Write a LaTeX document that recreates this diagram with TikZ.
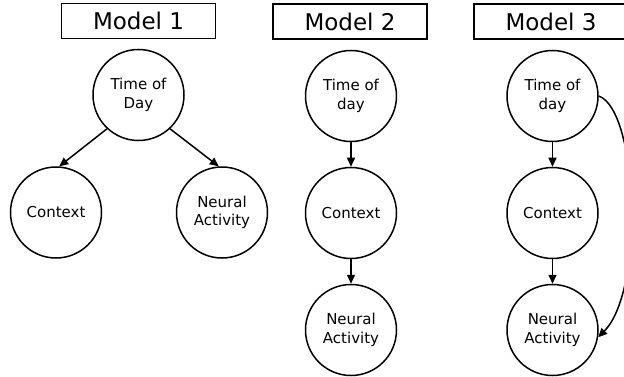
\documentclass[tikz,border=0pt]{standalone}
\usepackage{fontspec}
\setmainfont{DejaVu Sans}
\usetikzlibrary{arrows.meta}
\begin{document}
\begin{tikzpicture}[x=1pt,y=-1pt,
  varnode/.style={draw,circle,line width=1.5pt,minimum size=91pt,inner sep=0pt,
    align=center,font=\fontsize{15}{18.5}\selectfont},
  titlebox/.style={draw,line width=1.5pt,minimum width=154pt,minimum height=35pt,
    inner sep=0pt,font=\fontsize{23}{28}\selectfont},
  link/.style={line width=1.5pt,-{Triangle[length=9pt,width=8pt]}}]
\useasboundingbox (0,0) rectangle (624,377);
\clip (0,0) rectangle (624,377);

% Model 1: time of day drives both context and neural activity
\node[titlebox] (m1) at (138.5,21) {Model 1};
\node[varnode] (t1) at (138.5,95) {Time of\\Day};
\node[varnode] (c1) at (56,212.5) {Context};
\node[varnode] (n1) at (222,212.5) {Neural\\Activity};
\draw[link] (t1.-133) -- (c1.86);
\draw[link] (t1.-47) -- (n1.94);

% Model 2: a chain through context
\node[titlebox] (m2) at (350,21.5) {Model 2};
\node[varnode] (t2) at (351,96) {Time of\\day};
\node[varnode] (c2) at (351,213) {Context};
\node[varnode] (n2) at (351,330) {Neural\\Activity};
\draw[link] (t2) -- (c2);
\draw[link] (c2) -- (n2);

% Model 3: chain plus a direct path
\node[titlebox] (m3) at (551,21.5) {Model 3};
\node[varnode] (t3) at (552.5,96) {Time of\\day};
\node[varnode] (c3) at (552.5,213) {Context};
\node[varnode] (n3) at (552.5,330) {Neural\\Activity};
\draw[link] (t3) -- (c3);
\draw[link] (c3) -- (n3);
\draw[link] (t3.east) .. controls (638,110) and (645,290) .. (n3.-9);
\end{tikzpicture}
\end{document}
